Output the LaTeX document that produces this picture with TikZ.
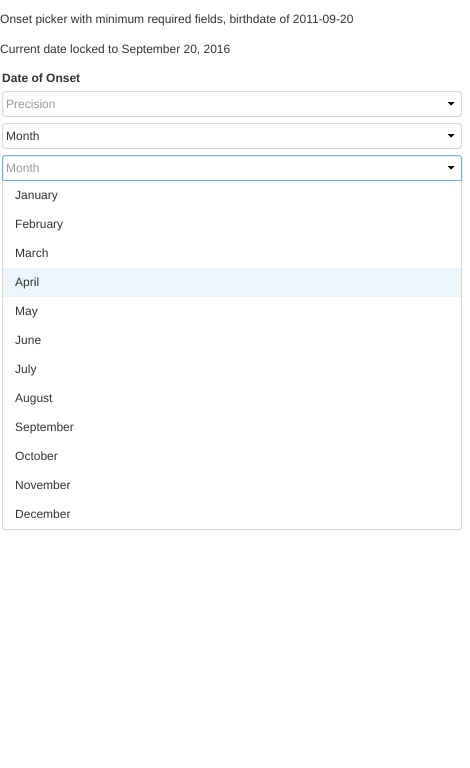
\documentclass[tikz,border=0pt]{standalone}
\usepackage{fontspec}
\setmainfont{Liberation Sans}
\definecolor{txt}{HTML}{333333}
\definecolor{hint}{HTML}{999999}
\definecolor{edge}{HTML}{D9D9D9}
\definecolor{focus}{HTML}{66AFE9}
\definecolor{hover}{HTML}{EBF5FC}
\begin{document}
\begin{tikzpicture}[x=1pt, y=-1pt,
    label/.style={anchor=base west, inner sep=0, text=txt, font=\fontsize{12}{14}\selectfont},
    placeholder/.style={label, text=hint},
    field/.style={draw=edge, line width=1pt, rounded corners=3pt},
    caret/.style={fill=black}]
\useasboundingbox[fill=white] (0,0) rectangle (470,768);

\node[label] (title) at (0,24) {Onset picker with minimum required fields, birthdate of 2011-09-20};
\node[label] (locked) at (0,53) {Current date locked to September 20, 2016};
\node[label, font=\fontsize{12}{14}\selectfont\bfseries] (heading) at (2,82) {Date of Onset};

% precision select
\draw[field] (2.5,91.5) rectangle (461.5,116.5);
\node[placeholder] (precision) at (6,108) {Precision};
\fill[caret] (447.5,102) -- (454.5,102) -- (451,105.5) -- cycle;

% unit select
\draw[field] (2.5,123.5) rectangle (461.5,148.5);
\node[label] (unit) at (6,140) {Month};
\fill[caret] (447.5,134) -- (454.5,134) -- (451,137.5) -- cycle;

% open month menu
\fill[hover] (3,268) rectangle (461,297);
\draw[field, rounded corners=2pt] (2.5,180.5) -- (2.5,529.5) -- (461.5,529.5) -- (461.5,180.5);
\draw[field, draw=focus, rounded corners=3pt] (2.5,180.5) -- (2.5,155.5) -- (461.5,155.5) -- (461.5,180.5);
\draw[draw=focus, line width=1pt] (2.5,180.5) -- (461.5,180.5);
\node[placeholder] (month) at (6,172) {Month};
\fill[caret] (447.5,166) -- (454.5,166) -- (451,169.5) -- cycle;

\foreach \m [count=\i from 0] in {January,February,March,April,May,June,July,August,September,October,November,December}
    \node[label] (m\i) at (15,199+29*\i) {\m};
\end{tikzpicture}
\end{document}
